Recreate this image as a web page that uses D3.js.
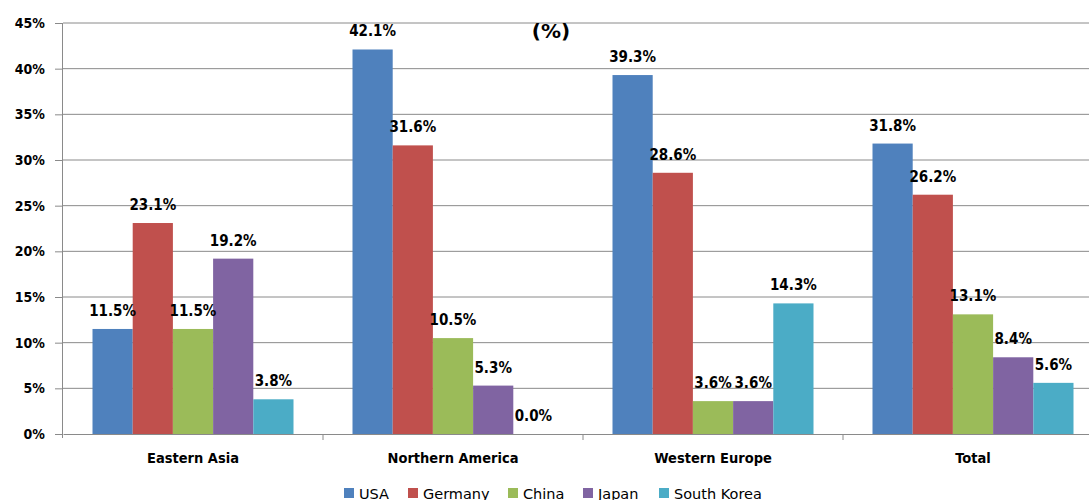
<!DOCTYPE html>
<html>
<head>
<meta charset="utf-8">
<script src="https://cdn.jsdelivr.net/npm/d3@7.9.0/dist/d3.min.js"></script>
<style>
  body { margin: 0; background: #fff; }
  svg { display: block; font-family: "DejaVu Sans", sans-serif; }
  .cond { font-family: "DejaVu Sans Condensed", "DejaVu Sans", sans-serif; font-stretch: condensed; }
</style>
</head>
<body>
<svg id="chart" width="1089" height="500"></svg>
<script>
// data
const regions = ["Eastern Asia", "Northern America", "Western Europe", "Total"];
const countries = ["USA", "Germany", "China", "Japan", "South Korea"];
const usa = [11.5, 42.1, 39.3, 31.8];
const germany = [23.1, 31.6, 28.6, 26.2];
const china = [11.5, 10.5, 3.6, 13.1];
const japan = [19.2, 5.3, 3.6, 8.4];
const southKorea = [3.8, 0.0, 14.3, 5.6];
const yTicks = [0, 5, 10, 15, 20, 25, 30, 35, 40, 45];

const series = [usa, germany, china, japan, southKorea];
const colors = ["#4F81BD", "#C0504D", "#9BBB59", "#8064A2", "#4BACC6"];

const svg = d3.select("#chart");
const plotLeft = 63, plotRight = 1103, plotTop = 23, plotBottom = 434;

const x0 = d3.scaleBand().domain(regions).range([plotLeft, plotRight]);
const x1 = d3.scaleBand().domain(countries).range([29.5, 230.5]);
const y = d3.scaleLinear().domain([0, 45]).range([plotBottom, plotTop]);

// grid lines
svg.append("g")
  .selectAll("line")
  .data(yTicks.filter(d => d > 0))
  .enter()
  .append("line")
  .attr("x1", plotLeft).attr("x2", plotRight)
  .attr("y1", d => y(d)).attr("y2", d => y(d))
  .attr("stroke", "#8a8a8a")
  .attr("stroke-width", 1);

// y axis
const yAxis = svg.append("g")
  .attr("transform", `translate(${plotLeft},0)`)
  .call(d3.axisLeft(y).tickValues(yTicks).tickSize(8).tickPadding(10).tickFormat(d => d + "%"));
yAxis.select(".domain").attr("stroke", "#8a8a8a").attr("d", `M-0.5,${plotTop}V${plotBottom + 4}`);
yAxis.selectAll(".tick line").attr("stroke", "#8a8a8a");
yAxis.selectAll(".tick text")
  .attr("class", "cond")
  .attr("font-size", 14).attr("font-weight", "bold").attr("fill", "#000");

// bars
const groups = svg.append("g")
  .selectAll("g")
  .data(regions)
  .enter()
  .append("g")
  .attr("transform", d => `translate(${x0(d)},0)`);

groups.selectAll("rect")
  .data((r, i) => countries.map((c, j) => ({ country: c, value: series[j][i], color: colors[j] })))
  .enter()
  .append("rect")
  .attr("x", d => x1(d.country))
  .attr("width", x1.bandwidth())
  .attr("y", d => y(d.value))
  .attr("height", d => plotBottom - y(d.value))
  .attr("fill", d => d.color);

groups.selectAll("text")
  .data((r, i) => countries.map((c, j) => ({ country: c, value: series[j][i] })))
  .enter()
  .append("text")
  .attr("class", "cond")
  .attr("x", d => x1(d.country) + x1.bandwidth() / 2)
  .attr("y", d => y(d.value) - 13)
  .attr("text-anchor", "middle")
  .attr("font-size", 15)
  .attr("font-weight", "bold")
  .text(d => d.value.toFixed(1) + "%");

// x axis
const xAxis = svg.append("g")
  .attr("transform", `translate(0,${plotBottom})`)
  .call(d3.axisBottom(x0).tickSize(0).tickPadding(19));
xAxis.select(".domain").attr("stroke", "#8a8a8a");
xAxis.selectAll(".tick text")
  .attr("class", "cond")
  .attr("font-size", 14.5).attr("font-weight", "bold").attr("fill", "#000");
svg.append("g")
  .selectAll("line")
  .data(regions.slice(1))
  .enter()
  .append("line")
  .attr("x1", d => x0(d)).attr("x2", d => x0(d))
  .attr("y1", plotBottom).attr("y2", plotBottom + 6)
  .attr("stroke", "#8a8a8a");

// title
svg.append("text")
  .attr("x", 551).attr("y", 38)
  .attr("text-anchor", "middle")
  .attr("font-size", 20).attr("font-weight", "bold")
  .text("(%)");

// legend
const legendX = [344, 408, 508, 583, 659];
const legend = svg.append("g")
  .selectAll("g")
  .data(countries)
  .enter()
  .append("g")
  .attr("transform", (d, i) => `translate(${legendX[i]},488)`);
legend.append("rect")
  .attr("width", 10).attr("height", 10)
  .attr("fill", (d, i) => colors[i]);
legend.append("text")
  .attr("x", 15).attr("y", 10.5)
  .attr("font-size", 14.5)
  .text(d => d);
</script>
</body>
</html>
